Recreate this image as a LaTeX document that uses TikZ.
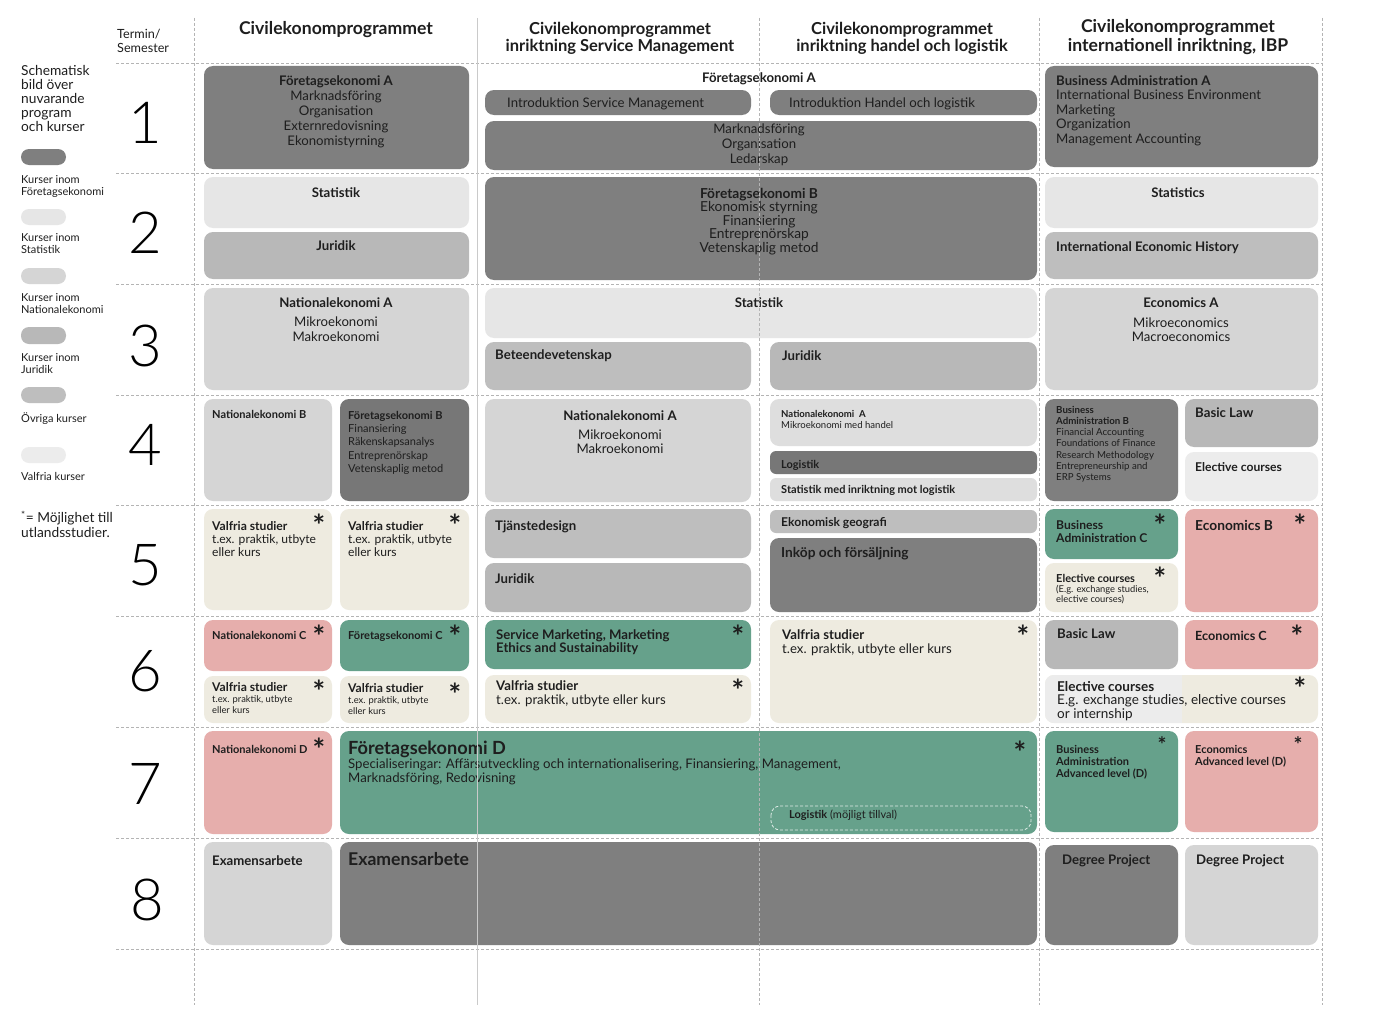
\documentclass[tikz,border=0pt]{standalone}
\usepackage{fontspec}
\setmainfont{Lato}[Scale=1.1]
\newfontfamily\numfont{Lato Light}
\definecolor{cfe}{HTML}{7F7F7F}
\definecolor{cfedark}{HTML}{777777}
\definecolor{cstat}{HTML}{E6E6E6}
\definecolor{cnek}{HTML}{D5D5D5}
\definecolor{cnekl}{HTML}{DEDEDE}
\definecolor{cjur}{HTML}{B8B8B8}
\definecolor{covr}{HTML}{BEBEBE}
\definecolor{cval}{HTML}{ECECEC}
\definecolor{cbeige}{HTML}{EEEBE0}
\definecolor{cgrn}{HTML}{66A18B}
\definecolor{cpink}{HTML}{E6AEAC}
\definecolor{txt}{HTML}{1E1E1E}
\definecolor{gridc}{HTML}{B4B4B4}
\begin{document}
\begin{tikzpicture}[x=1pt,y=-1pt,
  box/.style={rounded corners=9pt},
  lbl/.style={inner sep=0pt,anchor=north west,align=left,text=txt},
  ctr/.style={inner sep=0pt,anchor=north,align=center,text=txt},
  bold12/.style={font=\bfseries\fontsize{12}{15}\selectfont},
  bold10/.style={font=\bfseries\fontsize{10}{12}\selectfont},
  astx/.style={inner sep=0pt,anchor=north,text=txt,font=\bfseries\fontsize{27}{27}\selectfont},
  termno/.style={inner sep=0pt,text=black,font=\numfont\fontsize{58}{58}\selectfont},
  gridline/.style={draw=gridc,dash pattern=on 3pt off 2pt,line width=.7pt}]

\fill[white] (0,0) rectangle (1400,1025);
\useasboundingbox (0,0) rectangle (1400,1025);

% legend
\node[lbl,font=\fontsize{12.5}{14}\selectfont] (intro) at (21,65) {Schematisk\\bild över\\nuvarande\\program\\och kurser};
\fill[cfe,rounded corners=8pt] (21,149) rectangle (66,165);
\node[lbl,font=\fontsize{10}{12}\selectfont] (legfe) at (21,175) {Kurser inom\\Företagsekonomi};
\fill[cstat,rounded corners=8pt] (21,209) rectangle (66,225);
\node[lbl,font=\fontsize{10}{12}\selectfont] (legstat) at (21,233) {Kurser inom\\Statistik};
\fill[cnek,rounded corners=8pt] (21,268) rectangle (66,284);
\node[lbl,font=\fontsize{10}{12}\selectfont] (legnek) at (21,293) {Kurser inom\\Nationalekonomi};
\fill[cjur,rounded corners=8pt] (21,327) rectangle (66,344);
\node[lbl,font=\fontsize{10}{12}\selectfont] (legjur) at (21,353) {Kurser inom\\Juridik};
\fill[covr,rounded corners=8pt] (21,387) rectangle (66,403);
\node[lbl,font=\fontsize{10}{12}\selectfont] (legovr) at (21,413) {Övriga kurser};
\fill[cval,rounded corners=8pt] (21,447) rectangle (66,463);
\node[lbl,font=\fontsize{10}{12}\selectfont] (legval) at (21,472) {Valfria kurser};
\node[lbl,font=\fontsize{12.5}{15}\selectfont] (legstar) at (21,511) {\textsuperscript{*}= Möjlighet till\\utlandsstudier.};

% header
\node[lbl,font=\fontsize{11.5}{14}\selectfont] (termin) at (117,29) {Termin/\\Semester};
\node[ctr,font=\bfseries\fontsize{16}{17}\selectfont] (head1) at (336,21) {Civilekonomprogrammet};
\node[ctr,font=\bfseries\fontsize{15}{17}\selectfont] (head2) at (620,22) {Civilekonomprogrammet\\inriktning Service Management};
\node[ctr,font=\bfseries\fontsize{15}{17}\selectfont] (head3) at (902,22) {Civilekonomprogrammet\\inriktning handel och logistik};
\node[ctr,font=\bfseries\fontsize{16}{19}\selectfont] (head4) at (1178,19) {Civilekonomprogrammet\\internationell inriktning, IBP};

\node[termno] (t1) at (145,123) {1};
\node[termno] (t2) at (145,233) {2};
\node[termno] (t3) at (145,346) {3};
\node[termno] (t4) at (145,445) {4};
\node[termno] (t5) at (145,565) {5};
\node[termno] (t6) at (145,671) {6};
\node[termno] (t7) at (145,784) {7};
\node[termno] (t8) at (147,900) {8};

% termin 1
\fill[box,cfe] (204,66) rectangle (469,169);
\node[ctr,font=\fontsize{12}{15}\selectfont] (feA) at (336,75) {\textbf{Företagsekonomi A}\\Marknadsföring\\Organisation\\Externredovisning\\Ekonomistyrning};
\node[ctr,bold12] (feAmid) at (759,72) {Företagsekonomi A};
\fill[box,cfe] (485,90) rectangle (751,115);
\node[lbl,font=\fontsize{12}{15}\selectfont] (introSM) at (507,98) {Introduktion Service Management};
\fill[box,cfe] (770,90) rectangle (1037,115);
\node[lbl,font=\fontsize{12}{15}\selectfont] (introHL) at (789,98) {Introduktion Handel och logistik};
\fill[box,cfe] (485,121) rectangle (1037,170);
\node[ctr,font=\fontsize{12}{15}\selectfont] (feAcore) at (759,124) {Marknadsföring\\Organisation\\Ledarskap};
\fill[box,cfe] (1045,66) rectangle (1318,167);
\node[lbl,font=\fontsize{12}{14.5}\selectfont] (baA) at (1056,75) {\textbf{Business Administration A}\\International Business Environment\\Marketing\\Organization\\Management Accounting};

% termin 2
\fill[box,cstat] (204,177) rectangle (469,228);
\node[ctr,bold12] (stat1) at (336,187) {Statistik};
\fill[box,cjur] (204,232) rectangle (469,279);
\node[ctr,bold12] (jur1) at (336,240) {Juridik};
\fill[box,cfe] (485,177) rectangle (1037,280);
\node[ctr,font=\fontsize{12.5}{13.5}\selectfont] (feB) at (759,188) {\textbf{Företagsekonomi B}\\Ekonomisk styrning\\Finansiering\\Entreprenörskap\\Vetenskaplig metod};
\fill[box,cstat] (1045,177) rectangle (1318,228);
\node[ctr,bold12] (statIBP) at (1178,187) {Statistics};
\fill[box,covr] (1045,232) rectangle (1318,279);
\node[lbl,bold12] (ieh) at (1056,241) {International Economic History};

% termin 3
\fill[box,cnek] (204,288) rectangle (469,390);
\node[ctr,font=\fontsize{12}{15}\selectfont] (nekA1) at (336,297) {\textbf{Nationalekonomi A}\\[4pt]Mikroekonomi\\Makroekonomi};
\fill[box,cstat] (485,288) rectangle (1037,338);
\node[ctr,bold12] (stat2) at (759,297) {Statistik};
\fill[box,covr] (485,342) rectangle (751,390);
\node[lbl,bold12] (bet) at (495,349) {Beteendevetenskap};
\fill[box,cjur] (770,342) rectangle (1037,390);
\node[lbl,bold12] (jur3) at (782,350) {Juridik};
\fill[box,cnek] (1045,288) rectangle (1318,390);
\node[ctr,font=\fontsize{12}{14.5}\selectfont] (econA) at (1181,298) {\textbf{Economics A}\\[5pt]Mikroeconomics\\Macroeconomics};

% termin 4
\fill[box,cnek] (204,399) rectangle (332,501);
\node[lbl,bold10] (nekB) at (212,410) {Nationalekonomi B};
\fill[box,cfedark] (340,399) rectangle (469,501);
\node[lbl,font=\fontsize{10}{13.3}\selectfont] (feB4) at (348,411) {\textbf{Företagsekonomi B}\\Finansiering\\Räkenskapsanalys\\Entreprenörskap\\Vetenskaplig metod};
\fill[box,cnek] (485,399) rectangle (751,502);
\node[ctr,font=\fontsize{12}{14.5}\selectfont] (nekA2) at (620,410) {\textbf{Nationalekonomi A}\\[4.5pt]Mikroekonomi\\Makroekonomi};
\fill[box,cnekl] (770,399) rectangle (1037,446);
\node[lbl,font=\fontsize{8.7}{11}\selectfont] (nekA3) at (781,410.5) {\textbf{Nationalekonomi\ \ A}\\Mikroekonomi med handel};
\fill[box,cfedark,rounded corners=6pt] (770,451) rectangle (1037,474);
\node[lbl,bold10] (logi) at (781,460) {Logistik};
\fill[box,cnekl,rounded corners=6pt] (770,478) rectangle (1037,501);
\node[lbl,font=\bfseries\fontsize{10}{11}\selectfont] (statlog) at (781,485) {Statistik med inriktning mot logistik};
\fill[box,cfe] (1045,399) rectangle (1178,501);
\node[lbl,font=\fontsize{8.8}{11.2}\selectfont] (baB) at (1056,406) {\textbf{Business}\\\textbf{Administration B}\\Financial Accounting\\Foundations of Finance\\Research Methodology\\Entrepreneurship and\\ERP Systems};
\fill[box,cjur] (1185,399) rectangle (1318,447);
\node[lbl,bold12] (law4) at (1195,408) {Basic Law};
\fill[box,cval] (1185,452) rectangle (1318,501);
\node[lbl,font=\bfseries\fontsize{11}{13}\selectfont] (elec4) at (1195,462.5) {Elective courses};

% termin 5
\fill[box,cbeige] (204,509) rectangle (332,610);
\node[lbl,font=\fontsize{11}{13}\selectfont] (val5a) at (212,521.5) {\textbf{Valfria studier}\\t.ex. praktik, utbyte\\eller kurs};
\node[astx] (st5a) at (319,514) {*};
\fill[box,cbeige] (340,509) rectangle (469,610);
\node[lbl,font=\fontsize{11}{13}\selectfont] (val5b) at (348,521.5) {\textbf{Valfria studier}\\t.ex. praktik, utbyte\\eller kurs};
\node[astx] (st5b) at (455,514) {*};
\fill[box,covr] (485,509) rectangle (751,558);
\node[lbl,bold12] (tjd) at (495,520) {Tjänstedesign};
\fill[box,cjur] (485,563) rectangle (751,612);
\node[lbl,bold12] (jur5) at (495,573) {Juridik};
\fill[box,covr,rounded corners=6pt] (770,510) rectangle (1037,533);
\node[lbl,font=\bfseries\fontsize{11}{13}\selectfont] (ekgeo) at (781,517.5) {Ekonomisk geografi};
\fill[box,cfe] (770,538) rectangle (1037,612);
\node[lbl,font=\bfseries\fontsize{12.5}{15}\selectfont] (inkop) at (781,547) {Inköp och försäljning};
\fill[box,cgrn] (1045,509) rectangle (1178,559);
\node[lbl,font=\bfseries\fontsize{11}{13}\selectfont] (baC) at (1056,520.5) {Business\\Administration C};
\node[astx] (st5c) at (1160,514) {*};
\fill[box,cbeige] (1045,563) rectangle (1178,612);
\node[lbl,font=\fontsize{8.5}{10}\selectfont] (elec5) at (1056,574.5) {{\bfseries\fontsize{10}{10}\selectfont Elective courses}\\(E.g. exchange studies,\\elective courses)};
\node[astx] (st5d) at (1160,567) {*};
\fill[box,cpink] (1185,509) rectangle (1318,612);
\node[lbl,font=\bfseries\fontsize{12.5}{15}\selectfont] (econB) at (1195,520) {Economics B};
\node[astx] (st5e) at (1300,514) {*};

% termin 6
\fill[box,cpink] (204,620) rectangle (332,671);
\node[lbl,bold10] (nekC) at (212,631) {Nationalekonomi C};
\node[astx] (st6a) at (319,625) {*};
\fill[box,cgrn] (340,620) rectangle (469,671);
\node[lbl,bold10] (feC) at (348,631) {Företagsekonomi C};
\node[astx] (st6b) at (455,625) {*};
\fill[box,cbeige] (204,676) rectangle (332,723);
\node[lbl,font=\fontsize{8.5}{11}\selectfont] (val6a) at (212,682.5) {{\bfseries\fontsize{11}{11}\selectfont Valfria studier}\\t.ex. praktik, utbyte\\eller kurs};
\node[astx] (st6c) at (319,680) {*};
\fill[box,cbeige] (340,676) rectangle (469,723);
\node[lbl,font=\fontsize{8.5}{11}\selectfont] (val6b) at (348,683.5) {{\bfseries\fontsize{11}{11}\selectfont Valfria studier}\\t.ex. praktik, utbyte\\eller kurs};
\node[astx] (st6d) at (455,683) {*};
\fill[box,cgrn] (485,620) rectangle (751,669);
\node[lbl,font=\bfseries\fontsize{12}{13}\selectfont] (smk) at (496,629) {Service Marketing, Marketing\\Ethics and Sustainability};
\node[astx] (st6e) at (738,625) {*};
\fill[box,cbeige] (485,675) rectangle (751,723);
\node[lbl,font=\fontsize{12}{14}\selectfont] (val6c) at (496,680) {\textbf{Valfria studier}\\t.ex. praktik, utbyte eller kurs};
\node[astx] (st6f) at (738,679) {*};
\fill[box,cbeige] (770,620) rectangle (1037,723);
\node[lbl,font=\fontsize{12}{14}\selectfont] (val6d) at (782,629) {\textbf{Valfria studier}\\t.ex. praktik, utbyte eller kurs};
\node[astx] (st6g) at (1023,625) {*};
\fill[box,cjur] (1045,620) rectangle (1178,669);
\node[lbl,bold12] (law6) at (1057,629) {Basic Law};
\fill[box,cpink] (1185,620) rectangle (1318,669);
\node[lbl,font=\bfseries\fontsize{11.5}{13}\selectfont] (econC) at (1195,630.5) {Economics C};
\node[astx] (st6h) at (1297,625) {*};
\fill[box,cbeige] (1045,675) rectangle (1318,723);
\begin{scope}
\clip[box] (1045,675) rectangle (1318,723);
\fill[cval] (1045,675) rectangle (1182,723);
\end{scope}
\node[lbl,font=\fontsize{12.3}{13.5}\selectfont] (elec6) at (1057,681) {\textbf{Elective courses}\\E.g. exchange studies, elective courses\\or internship};
\node[astx] (st6i) at (1300,677) {*};

% termin 7
\fill[box,cpink] (204,731) rectangle (332,834);
\node[lbl,bold10] (nekD) at (212,745) {Nationalekonomi D};
\node[astx] (st7a) at (319,738) {*};
\fill[box,cgrn] (340,731) rectangle (1037,834);
\node[lbl,font=\fontsize{12}{14}\selectfont] (feD) at (348,740.5) {{\bfseries\fontsize{16.5}{14}\selectfont Företagsekonomi D}\\Specialiseringar: Affärsutveckling och internationalisering, Finansiering, Management,\\Marknadsföring, Redovisning};
\node[astx] (st7b) at (1020,741) {*};
\draw[box,draw=white,draw opacity=.8,dash pattern=on 3pt off 2pt,line width=.8pt] (771,806) rectangle (1031,830);
\node[lbl,font=\fontsize{10}{11}\selectfont] (logopt) at (789,810) {\textbf{Logistik} (möjligt tillval)};
\fill[box,cgrn] (1045,731) rectangle (1178,832);
\node[lbl,font=\bfseries\fontsize{10}{12}\selectfont] (baD) at (1056,745) {Business\\Administration\\Advanced level (D)};
\node[astx,font=\bfseries\fontsize{19}{19}\selectfont] (st7c) at (1162,736.5) {*};
\fill[box,cpink] (1185,731) rectangle (1318,832);
\node[lbl,font=\bfseries\fontsize{10}{12}\selectfont] (econD) at (1195,745) {Economics\\Advanced level (D)};
\node[astx,font=\bfseries\fontsize{19}{19}\selectfont] (st7d) at (1298,736.5) {*};

% termin 8
\fill[box,cnek] (204,842) rectangle (332,945);
\node[lbl,bold12] (exA) at (212,855) {Examensarbete};
\fill[box,cfe] (340,842) rectangle (1037,945);
\node[lbl,font=\bfseries\fontsize{16}{18}\selectfont] (exB) at (348,852.6) {Examensarbete};
\fill[box,cfe] (1045,845) rectangle (1178,945);
\node[lbl,bold12] (dp1) at (1062,855) {Degree Project};
\fill[box,cnek] (1185,845) rectangle (1318,945);
\node[lbl,bold12] (dp2) at (1196,855) {Degree Project};

% grid
\foreach \y in {63,173,284,395,505,616,727,838,949}
  \draw[gridline] (116,\y) -- (1322,\y);
\foreach \x in {194,759,1039,1322}
  \draw[gridline] (\x,18) -- (\x,1005);
\draw[gridc!70,line width=.5pt] (477,18) -- (477,1005);

\end{tikzpicture}
\end{document}
